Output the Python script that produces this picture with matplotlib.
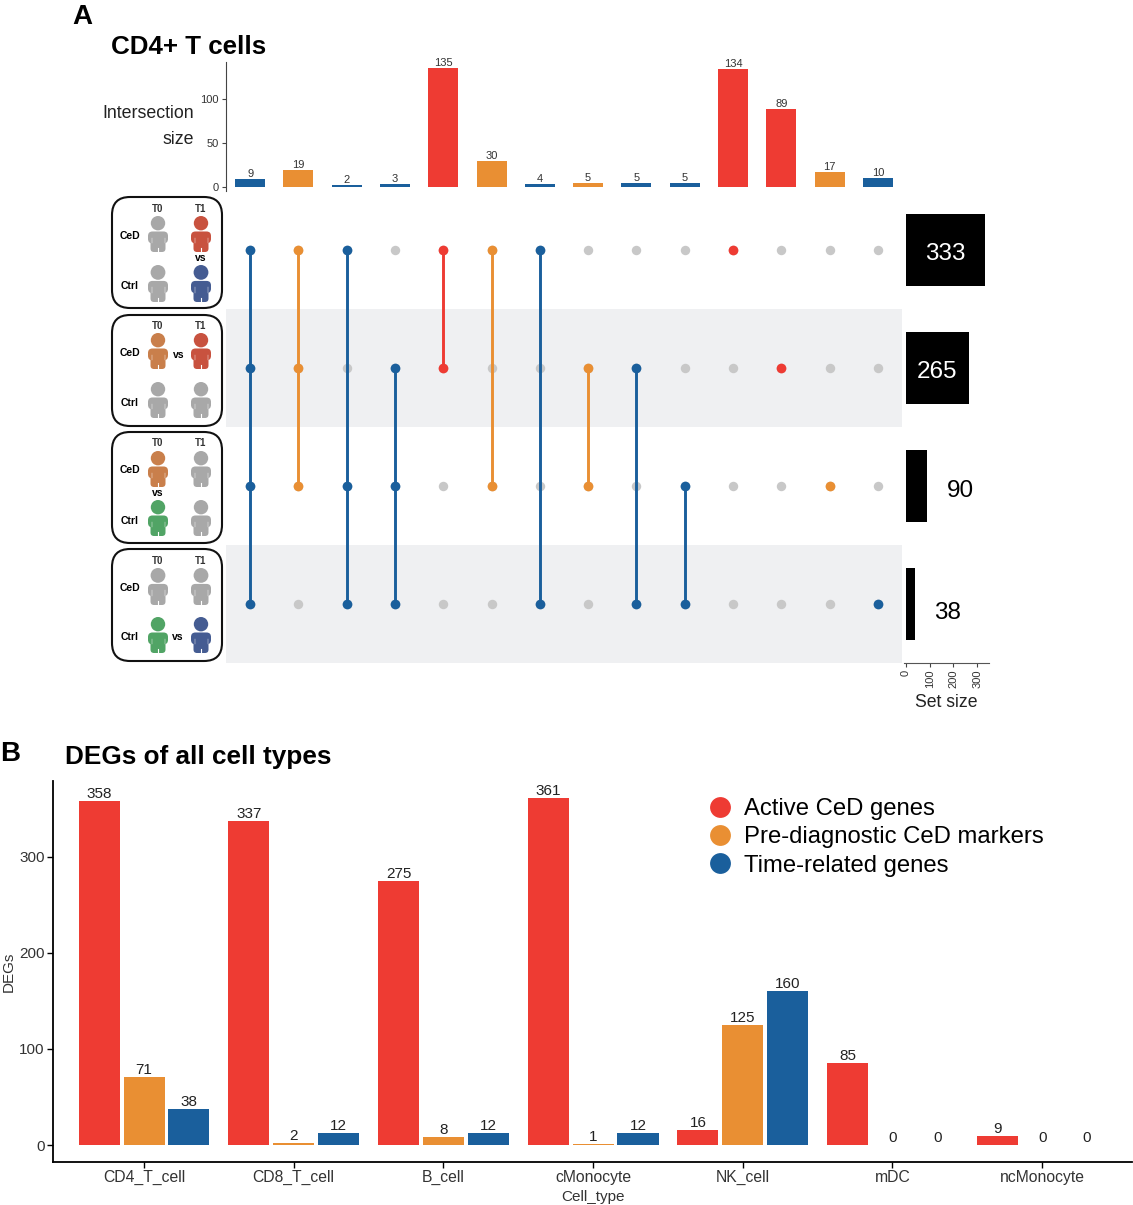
#UpSet plot of CD4+ T cells + DEG bars for all cell types

import matplotlib
matplotlib.use("Agg")
import matplotlib.pyplot as plt
from matplotlib.patches import Circle, FancyBboxPatch
from matplotlib.lines import Line2D

plt.rcParams['font.family'] = ['Liberation Sans', 'DejaVu Sans']

red = "#EE3B33"
orange = "#E98F33"
blue = "#1A5F9C"
grey = "#C8C8C8"
W, H = 1133, 1205

'''---Data---'''
inter_sizes = [9, 19, 2, 3, 135, 30, 4, 5, 5, 5, 134, 89, 17, 10]
inter_colors = [blue, orange, blue, blue, red, orange, blue, orange, blue, blue, red, red, orange, blue]
inter_members = [[0, 1, 2, 3], [0, 1, 2], [0, 2, 3], [1, 2, 3], [0, 1], [0, 2], [0, 3],
                 [1, 2], [1, 3], [2, 3], [0], [1], [2], [3]]
set_sizes = [333, 265, 90, 38]

cell_types = ["CD4_T_cell", "CD8_T_cell", "B_cell", "cMonocyte", "NK_cell", "mDC", "ncMonocyte"]
active = [358, 337, 275, 361, 16, 85, 9]
prediag = [71, 2, 8, 1, 125, 0, 0]
timerel = [38, 12, 12, 12, 160, 0, 0]
legend_labels = ["Active CeD genes", "Pre-diagnostic CeD markers", "Time-related genes"]

'''---Helpers---'''
def ax_px(fig, x0, y0, x1, y1):
    #axes from pixel box, y measured from the top of the image
    return fig.add_axes([x0/W, 1-y1/H, (x1-x0)/W, (y1-y0)/H])

def person(ax, x, top, bottom, c):
    h = bottom-top
    ax.add_patch(Circle((x, top+0.2*h), 0.2*h, color=c, lw=0))
    #torso with arms, then the legs
    ax.add_patch(FancyBboxPatch((x-10, top+0.43*h), 20, 0.33*h, boxstyle="round,pad=0,rounding_size=4.5", fc=c, ec="none"))
    ax.add_patch(FancyBboxPatch((x-7.5, top+0.55*h), 15, 0.45*h, boxstyle="round,pad=0,rounding_size=3.5", fc=c, ec="none"))
    ax.plot([x, x], [top+0.9*h, bottom], color="white", lw=0.8)
    ax.plot([x-6.5, x-6.5], [top+0.6*h, top+0.76*h], color="white", lw=0.3)
    ax.plot([x+6.5, x+6.5], [top+0.6*h, top+0.76*h], color="white", lw=0.3)

fig = plt.figure(figsize=(W/100, H/100), dpi=100)

'''---Top bars---'''
ax1 = ax_px(fig, 226, 62, 902, 191)
bars = ax1.bar(range(14), inter_sizes, width=0.62, color=inter_colors)
ax1.bar_label(bars, fontsize=8, color="#333333", padding=0)
ax1.set_xlim(-0.5, 13.5)
ax1.set_ylim(-4.5, 142)
ax1.set_yticks([0, 50, 100])
ax1.set_xticks([])
ax1.tick_params(axis='y', labelsize=8, length=3, width=0.8, color="#444444", labelcolor="#333333", pad=2)
for s in ['top', 'right', 'bottom']:
    ax1.spines[s].set_visible(False)
ax1.spines['left'].set_color("#444444")
ax1.patch.set_alpha(0)

'''---Matrix---'''
ax2 = ax_px(fig, 226, 191, 902, 663)
ax2.set_xlim(-0.5, 13.5)
ax2.set_ylim(3.5, -0.5)
ax2.axis('off')
for r in (1, 3):
    ax2.axhspan(r-0.5, r+0.5, color="#EFF0F2", lw=0, zorder=0)
for i, members in enumerate(inter_members):
    ax2.plot([i]*4, range(4), 'o', ms=6.8, color=grey, mew=0, zorder=1)
    ax2.plot([i]*len(members), members, '-', lw=2.1, color=inter_colors[i], zorder=2)
    ax2.plot([i]*len(members), members, 'o', ms=7, color=inter_colors[i], mew=0, zorder=3)

'''---Set size---'''
ax3 = ax_px(fig, 904, 191, 989, 663)
ax3.barh(range(4), set_sizes, height=0.61, color="black")
ax3.set_xlim(-8.4, 350)
ax3.set_ylim(3.5, -0.5)
ax3.set_yticks([])
ax3.set_xticks([0, 100, 200, 300])
ax3.tick_params(axis='x', labelsize=8, length=3, width=0.8, color="#444444", labelcolor="#333333", labelrotation=90, pad=2)
ax3.set_xlabel("Set size", fontsize=12.7, labelpad=4, color="#222222")
for s in ['top', 'right', 'left']:
    ax3.spines[s].set_visible(False)
ax3.spines['bottom'].set_color("#555555")
ax3.patch.set_alpha(0)
label_shift = [0.035, 0.03, 0.04, 0.08]
for r, v in enumerate(set_sizes):
    if v > 200:
        ax3.text(v/2, r+label_shift[r], str(v), color="white", fontsize=17.5, ha='center', va='center')
    else:
        ax3.annotate(str(v), (v, r+label_shift[r]), xytext=(23.5, 0), textcoords='offset points',
                     fontsize=17.5, ha='center', va='center', annotation_clip=False)

'''---DEGs---'''
ax4 = ax_px(fig, 53, 781, 1132, 1162)
offset, width = 0.30, 0.274
for k, (vals, c) in enumerate(zip([active, prediag, timerel], [red, orange, blue])):
    b = ax4.bar([i+(k-1)*offset for i in range(7)], vals, width=width, color=c, label=legend_labels[k])
    ax4.bar_label(b, fontsize=11, color="#222222", padding=0)
ax4.set_xlim(-0.608, 6.6)
ax4.set_ylim(-17.7, 379)
ax4.set_xticks(range(7))
ax4.set_xticklabels(cell_types)
ax4.set_yticks([0, 100, 200, 300])
ax4.tick_params(axis='y', labelsize=11, length=4, width=1, labelcolor="#333333", pad=2)
ax4.tick_params(axis='x', labelsize=11.3, length=4, width=1, labelcolor="#333333", pad=2)
ax4.set_xlabel("Cell_type", fontsize=11, color="#333333", labelpad=3)
ax4.set_ylabel("DEGs", fontsize=11, color="#333333")
ax4.yaxis.set_label_coords(-0.0345, 0.5)
for s in ['top', 'right']:
    ax4.spines[s].set_visible(False)
for s in ['left', 'bottom']:
    ax4.spines[s].set_linewidth(1.3)
handles = [Line2D([], [], marker='o', ls='', ms=15, mew=0, color=c) for c in [red, orange, blue]]
ax4.legend(handles, legend_labels, fontsize=17.2, frameon=False, loc='upper left',
           bbox_to_anchor=(0.596, 0.955), labelspacing=0.26, handletextpad=0.0, borderpad=0, borderaxespad=0)

'''---Overlay: titles and the little people panels---'''
ov = ax_px(fig, 0, 0, W, H)
ov.set_xlim(0, W)
ov.set_ylim(H, 0)
ov.axis('off')
ov.patch.set_alpha(0)
ov.text(72, 17, "A", fontsize=20, fontweight='bold', va='center')
ov.text(0, 754, "B", fontsize=20, fontweight='bold', va='center')
ov.text(111, 47, "CD4+ T cells", fontsize=18.7, fontweight='bold', va='center')
ov.text(65, 757, "DEGs of all cell types", fontsize=18.8, fontweight='bold', va='center')
ov.text(194, 114, "Intersection", fontsize=12.8, ha='right', va='center', color="#222222")
ov.text(194, 139, "size", fontsize=12.8, ha='right', va='center', color="#222222")

pgrey = "#A8A8A8"
pred = "#C8523F"
porange = "#C97F4B"
pblue = "#455C92"
pgreen = "#51A465"
# box top/bottom, person tops/bottoms, T label y, CeD y, Ctrl y, vs pos, person colours
boxes = [
    (197, 308, 216, 252, 265, 302, 209, 236, 286, (201, 258), [pgrey, pred, pgrey, pblue]),
    (315, 426, 333, 369, 382, 418, 326, 353, 403, (179, 355), [porange, pred, pgrey, pgrey]),
    (432, 543, 451, 487, 500, 536, 443, 470, 521, (158, 493), [porange, pgrey, pgreen, pgrey]),
    (549, 661, 568, 605, 617, 653, 561, 588, 637, (178, 637), [pgrey, pgrey, pgreen, pblue]),
]
for b in boxes:
    top, bot, t1, b1, t2, b2, ty, cy, ky, vs, cols = b
    ov.add_patch(FancyBboxPatch((112, top), 110, bot-top, boxstyle="round,pad=0,rounding_size=18",
                                fc="white", ec="#111111", lw=1.5))
    person(ov, 158, t1, b1, cols[0])
    person(ov, 201, t1, b1, cols[1])
    person(ov, 158, t2, b2, cols[2])
    person(ov, 201, t2, b2, cols[3])
    ov.text(158, ty, "T0", fontsize=7, fontweight='bold', ha='center', va='center', color="#333333")
    ov.text(201, ty, "T1", fontsize=7, fontweight='bold', ha='center', va='center', color="#333333")
    ov.text(130, cy, "CeD", fontsize=7.5, fontweight='bold', ha='center', va='center')
    ov.text(130, ky, "Ctrl", fontsize=7.5, fontweight='bold', ha='center', va='center')
    ov.text(vs[0], vs[1], "vs", fontsize=7.5, fontweight='bold', ha='center', va='center')

plt.savefig("out.png", dpi=100)
